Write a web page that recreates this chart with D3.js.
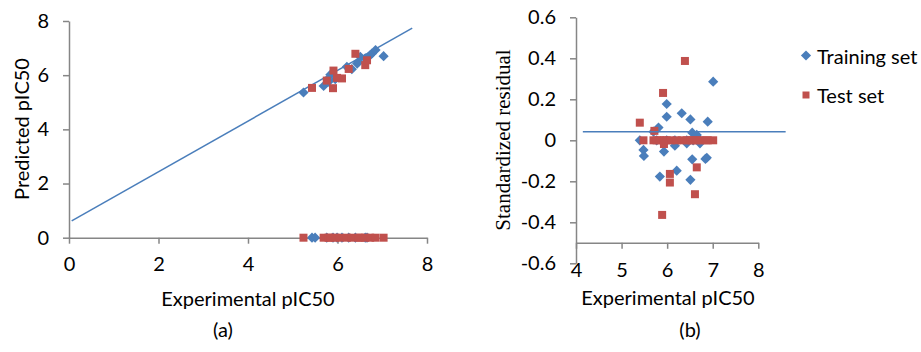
<!DOCTYPE html>
<html>
<head>
<meta charset="utf-8">
<script src="https://d3js.org/d3.v7.min.js"></script>
<style>
  body { margin: 0; background: #fff; }
  .axis path, .axis line { stroke: #868686; stroke-width: 1.5; }
</style>
</head>
<body>
<svg id="chart" width="921" height="352" font-family="Lato, 'Open Sans', sans-serif"></svg>
<script>
// ---- data ----
// (a) predicted vs experimental
var trainExp  = [5.24, 5.69, 5.80, 5.84, 5.95, 6.21, 6.32, 6.44, 6.47, 6.51, 6.62, 6.73, 6.77, 6.85, 7.03];
var trainPred = [5.36, 5.60, 5.76, 6.02, 5.85, 6.31, 6.22, 6.43, 6.49, 6.68, 6.62, 6.74, 6.80, 6.93, 6.70];
var testExp   = [5.43, 5.76, 5.90, 5.91, 5.99, 6.10, 6.25, 6.40, 6.62, 6.66];
var testPred  = [5.53, 5.80, 5.52, 6.17, 5.90, 5.88, 6.23, 6.79, 6.37, 6.55];
// empty cells that Excel drew as zero
var trainZeroA = [5.43, 5.50, 5.76, 5.90, 5.99, 6.10, 6.25, 6.40, 6.62, 6.66];
var testZeroA  = [5.24, 5.69, 5.80, 5.84, 5.95, 6.05, 6.21, 6.32, 6.47, 6.51, 6.62, 6.73, 6.85, 7.03];
var fitA = [[0.06, 0.62], [7.67, 7.74]];

// (b) standardized residual vs experimental
var trainResX = [5.48, 5.49, 5.70, 5.81, 5.84, 5.93, 5.99, 5.99, 6.17, 6.21, 6.32, 6.43, 6.51, 6.51, 6.55, 6.55, 6.65, 6.72, 6.84, 6.87, 6.89, 7.01];
var trainResY = [-0.047, -0.076, 0.042, 0.062, -0.177, -0.055, 0.115, 0.177, -0.026, -0.148, 0.132, -0.015, 0.102, -0.193, -0.093, 0.037, 0.026, -0.015, -0.091, -0.085, 0.091, 0.286];
var testResX  = [5.40, 5.72, 5.89, 5.91, 5.93, 6.06, 6.06, 6.39, 6.61, 6.65];
var testResY  = [0.086, 0.046, -0.364, 0.231, -0.018, -0.164, -0.206, 0.387, -0.263, -0.132];
var trainZeroB = [5.40, 5.77, 5.99, 6.17, 6.43, 6.57, 6.72];
var testZeroB  = [5.48, 5.70, 5.77, 5.84, 5.93, 5.99, 6.08, 6.21, 6.32, 6.43, 6.51, 6.55, 6.65, 6.72, 6.84, 6.89, 7.01];
var fitB = [[4.15, 0.042], [8.6, 0.042]];

var ticksA  = [0, 2, 4, 6, 8];
var xTicksB = [4, 5, 6, 7, 8];
var yTicksB = [-0.6, -0.4, -0.2, 0, 0.2, 0.4, 0.6];
var yLabelsB = ["-0.6", "-0.4", "-0.2", "0", "0.2", "0.4", "0.6"];

var blue = "#4a7ebb", red = "#c0504d";
var fs = 20;
var svg = d3.select("#chart");

var diamond = d3.symbol().type(d3.symbolSquare).size(52);
var square  = d3.symbol().type(d3.symbolSquare).size(64);

function dots(g, xs, ys, x, y, kind) {
  g.selectAll(null).data(xs).enter().append("path")
    .attr("d", kind == "d" ? diamond : square)
    .attr("fill", kind == "d" ? blue : red)
    .attr("transform", function(d, i) {
      return "translate(" + x(d) + "," + y(ys[i]) + ")" + (kind == "d" ? " rotate(45)" : "");
    });
}

function styleTicks(sel) {
  sel.selectAll("text").attr("font-size", fs).attr("font-family", "Lato").attr("fill", "#000");
}

// ---------- chart (a) ----------
var xa = d3.scaleLinear().domain([0, 8]).range([69, 427]);
var ya = d3.scaleLinear().domain([0, 8]).range([237.7, 21]);
var ga = svg.append("g");

ga.append("g").attr("class", "axis")
  .attr("transform", "translate(0," + ya(0) + ")")
  .call(d3.axisBottom(xa).tickValues(ticksA).tickSize(6).tickSizeOuter(0).tickPadding(13))
  .call(styleTicks);
ga.append("g").attr("class", "axis")
  .attr("transform", "translate(" + xa(0) + ",0)")
  .call(d3.axisLeft(ya).tickValues(ticksA).tickSize(6).tickSizeOuter(0).tickPadding(14))
  .call(styleTicks);

ga.append("line")
  .attr("x1", xa(fitA[0][0])).attr("y1", ya(fitA[0][1]))
  .attr("x2", xa(fitA[1][0])).attr("y2", ya(fitA[1][1]))
  .attr("stroke", blue).attr("stroke-width", 1.5);

dots(ga, trainZeroA, trainZeroA.map(function() { return 0; }), xa, ya, "d");
dots(ga, trainExp, trainPred, xa, ya, "d");
dots(ga, testZeroA, testZeroA.map(function() { return 0; }), xa, ya, "s");
dots(ga, testExp, testPred, xa, ya, "s");

ga.append("text").attr("x", 248).attr("y", 298).attr("text-anchor", "middle")
  .attr("dominant-baseline", "central").attr("font-size", fs).text("Experimental pIC50");
ga.append("text").attr("transform", "translate(21,129) rotate(-90)").attr("text-anchor", "middle")
  .attr("dominant-baseline", "central").attr("font-size", fs).text("Predicted pIC50");
ga.append("text").attr("x", 223).attr("y", 329).attr("text-anchor", "middle")
  .attr("dominant-baseline", "central").attr("font-size", fs).text("(a)");

// ---------- chart (b) ----------
var xb = d3.scaleLinear().domain([4, 8]).range([576, 758.3]);
var yb = d3.scaleLinear().domain([-0.6, 0.6]).range([263.3, 17.3]);
var gb = svg.append("g");

gb.append("g").attr("class", "axis")
  .attr("transform", "translate(0," + yb(-0.5) + ")")
  .call(d3.axisBottom(xb).tickValues(xTicksB).tickFormat(d3.format("d"))
    .tickSize(6).tickSizeOuter(0).tickPadding(14))
  .call(styleTicks);
gb.append("g").attr("class", "axis")
  .attr("transform", "translate(" + xb(4) + ",0)")
  .call(d3.axisLeft(yb).tickValues(yTicksB).tickSize(6).tickSizeOuter(0).tickPadding(14)
    .tickFormat(function(d, i) { return yLabelsB[i]; }))
  .call(styleTicks);

dots(gb, trainZeroB, trainZeroB.map(function() { return 0; }), xb, yb, "d");
dots(gb, trainResX, trainResY, xb, yb, "d");
dots(gb, testZeroB, testZeroB.map(function() { return 0; }), xb, yb, "s");
dots(gb, testResX, testResY, xb, yb, "s");

gb.append("line")
  .attr("x1", xb(fitB[0][0])).attr("y1", yb(fitB[0][1]))
  .attr("x2", xb(fitB[1][0])).attr("y2", yb(fitB[1][1]))
  .attr("stroke", blue).attr("stroke-width", 1.5);

gb.append("text").attr("x", 668).attr("y", 297).attr("text-anchor", "middle")
  .attr("dominant-baseline", "central").attr("font-size", fs).text("Experimental pIC50");
gb.append("text").attr("transform", "translate(503,140) rotate(-90)").attr("text-anchor", "middle")
  .attr("dominant-baseline", "central")
  .attr("font-size", 21).attr("font-family", "Liberation Serif")
  .text("Standardized residual");
gb.append("text").attr("x", 690).attr("y", 329).attr("text-anchor", "middle")
  .attr("dominant-baseline", "central").attr("font-size", fs).text("(b)");

// legend
var legend = [["Training set", "d", 55.5], ["Test set", "s", 95]];
legend.forEach(function(l) {
  svg.append("path")
    .attr("d", l[1] == "d" ? diamond : d3.symbol().type(d3.symbolSquare).size(49))
    .attr("fill", l[1] == "d" ? blue : red)
    .attr("transform", "translate(806," + l[2] + ")" + (l[1] == "d" ? " rotate(45)" : ""));
  svg.append("text").attr("x", 817).attr("y", l[2]).attr("dominant-baseline", "central")
    .attr("font-size", fs).text(l[0]);
});
</script>
</body>
</html>
